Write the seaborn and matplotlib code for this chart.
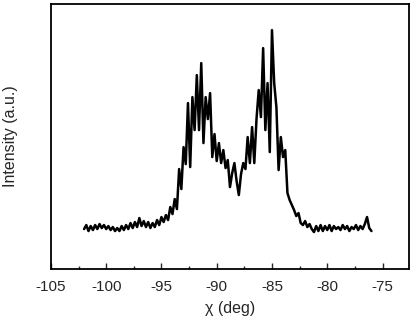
import numpy as np
import pandas as pd
import matplotlib
matplotlib.use("Agg")
import matplotlib.pyplot as plt
from matplotlib.ticker import MultipleLocator
import seaborn as sns

# chi scan, 0.2 deg steps from -102 to -76
chi = np.round(np.arange(-102.0, -75.9, 0.2), 1)
intensity = [
    40, 44, 38, 43, 39, 44, 40, 45, 41, 44,
    40, 43, 39, 42, 38, 41, 38, 43, 39, 44,
    40, 46, 41, 47, 42, 51, 43, 48, 42, 47,
    41, 46, 42, 49, 44, 52, 47, 54, 49, 62,
    55, 70, 60, 100, 80, 122, 105, 166, 102, 172,
    139, 194, 139, 206, 126, 172, 150, 176, 112, 135,
    108, 126, 106, 119, 101, 109, 82, 96, 106, 88,
    74, 95, 106, 100, 132, 106, 142, 106, 150, 179,
    152, 221, 139, 186, 117, 239, 186, 162, 99, 132,
    112, 119, 76, 69, 64, 59, 53, 56, 46, 44,
    48, 42, 45, 40, 37, 43, 38, 44, 38, 43,
    39, 44, 38, 43, 40, 42, 39, 44, 40, 43,
    38, 42, 40, 44, 39, 43, 40, 45, 52, 41,
    38,
]
x_ticks = [-105, -100, -95, -90, -85, -80, -75]

df = pd.DataFrame({"chi": chi, "intensity": intensity})

sns.set_style("ticks")
plt.rcParams["font.family"] = ["Liberation Sans", "DejaVu Sans"]

fig = plt.figure(figsize=(4.14, 3.18), dpi=100)
ax = fig.add_axes([0.123, 0.154, 0.865, 0.833])

sns.lineplot(data=df, x="chi", y="intensity", color="black", linewidth=1.8, ax=ax)

ax.set_xlim(-105, -72.6)
ax.set_ylim(0, 265)
ax.set_xticks(x_ticks)
ax.set_xticklabels([str(t) for t in x_ticks])
ax.xaxis.set_minor_locator(MultipleLocator(2.5))
ax.set_yticks([])
ax.tick_params(axis="x", which="major", direction="in", length=4, width=1, labelsize=11, pad=8)
ax.tick_params(axis="x", which="minor", direction="in", length=2.5, width=1)
ax.set_xlabel("χ (deg)", fontsize=11.5, labelpad=5)
ax.set_ylabel("Intensity (a.u.)", fontsize=11.5, labelpad=24)
for sp in ax.spines.values():
    sp.set_linewidth(1.3)
    sp.set_color("black")

fig.savefig("out.png", dpi=100)
